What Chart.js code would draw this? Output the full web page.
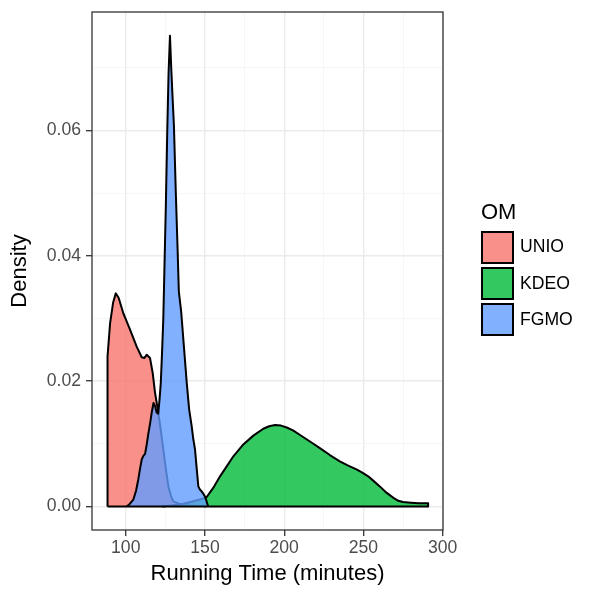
<!DOCTYPE html>
<html>
<head>
<meta charset="utf-8">
<script src="https://cdn.jsdelivr.net/npm/chart.js@4.4.0/dist/chart.umd.min.js"></script>
<style>
  html, body { margin: 0; padding: 0; background: #fff; }
  #wrap { position: relative; width: 600px; height: 600px; font-family: 'Liberation Sans', Arial, sans-serif; }
  #legendTitle { position: absolute; left: 481px; top: 201.4px; font-size: 22px; line-height: 1; color: #000; }
  .legend-item { position: absolute; left: 481px; display: flex; align-items: center; }
  .legend-key { width: 33px; height: 33px; box-sizing: border-box; border: 2px solid #000; }
  .legend-label { margin-left: 6px; font-size: 17.6px; line-height: 1; color: #000; }
</style>
</head>
<body>
<div id="wrap">
  <canvas id="densityChart" width="600" height="600"></canvas>
  <div id="legendTitle">OM</div>
</div>
<script>
// Series (density curves)
const seriesNames = ['UNIO', 'KDEO', 'FGMO'];

const unioX = [88.5, 88.5, 90.1, 92.0, 93.7, 95.5, 98.5, 102.7, 106.9, 110.1, 111.8, 113.2, 115.3, 117.0, 118.5, 120.6,
  122.2, 123.7, 125.3, 126.9, 128.5, 130.0, 135.0, 140.0, 145.0, 150.0, 150.0];
const unioY = [0, 0.0239, 0.0292, 0.0325, 0.0340, 0.0333, 0.0308, 0.0282, 0.0255, 0.0238, 0.0237, 0.0242, 0.0237, 0.0213, 0.0181, 0.0149,
  0.0120, 0.0091, 0.0060, 0.0032, 0.0017, 0.0008, 0.0003, 0.0002, 0.0001, 0.00005, 0];

const kdeoX = [123, 130, 136, 141, 145, 148, 151.1, 155.3, 159.5, 163.7, 167.9, 174.2, 180.5, 186.8, 190.5, 194.2, 198, 201.6,
  205.8, 210, 218.4, 222.5, 228.8, 235.1, 240.4, 245.6, 249.3, 253, 256.7, 260.3, 264.5, 268.7, 272, 275, 280, 285, 290.8, 290.8];
const kdeoY = [0, 0.0002, 0.0004, 0.0007, 0.0010, 0.0012, 0.0015, 0.0030, 0.0048, 0.0064, 0.0080, 0.0099, 0.0113, 0.0124, 0.0128,
  0.0130, 0.0129, 0.0126, 0.0121, 0.0114, 0.0100, 0.0093, 0.0082, 0.0072, 0.0065, 0.0059, 0.0054, 0.0048, 0.0040, 0.0032, 0.0022,
  0.0014, 0.0009, 0.0007, 0.0006, 0.0005, 0.0005, 0];

const fgmoX = [100.6, 102.5, 104.8, 106.5, 107.9, 109.0, 110.1, 111.2, 112.2, 113.3, 114.3, 115.4, 116.4, 117.5, 118.5, 119.5,
  120.5, 121.3, 122.1, 122.9, 123.7, 124.5, 125.3, 126.2, 127.0, 127.9, 128.7, 129.5, 130.4, 131.6, 132.6, 133.5, 135.0, 136.7,
  138.5, 140.0, 141.6, 142.6, 143.7, 144.8, 145.8, 146.8, 147.9, 149.0, 150.0, 151.0, 152.0];
const fgmoY = [0, 0.0004, 0.0011, 0.0025, 0.0043, 0.0060, 0.0075, 0.0081, 0.0084, 0.0100, 0.0117, 0.0133, 0.0150, 0.0165, 0.0160,
  0.0150, 0.0148, 0.0170, 0.0197, 0.0245, 0.0300, 0.0390, 0.0480, 0.0600, 0.0690, 0.0751, 0.0700, 0.0655, 0.0608, 0.0500,
  0.0420, 0.0343, 0.0310, 0.0255, 0.0197, 0.0155, 0.0128, 0.0108, 0.0091, 0.0060, 0.0032, 0.0027, 0.0024, 0.0020, 0.0016,
  0.0008, 0];

// Axis ticks
const xMajor = [100, 150, 200, 250, 300];
const xMinor = [125, 175, 225, 275];
const xTickLabels = ['100', '150', '200', '250', '300'];
const yMajor = [0, 0.02, 0.04, 0.06];
const yMinor = [0.01, 0.03, 0.05, 0.07];
const yTickLabels = ['0.00', '0.02', '0.04', '0.06'];

// Styles
const fillColors = ['rgba(248, 118, 109, 0.8)', 'rgba(0, 186, 56, 0.8)', 'rgba(97, 156, 255, 0.8)'];
const tickFont = { family: "'Liberation Sans', Arial, sans-serif", size: 17.6 };
const titleFont = { family: "'Liberation Sans', Arial, sans-serif", size: 22 };

function toPoints(xs, ys) {
  return xs.map((x, i) => ({ x: x, y: ys[i] }));
}

function majorIndex(list, v) {
  return list.findIndex((m) => Math.abs(m - v) < 1e-9);
}

function tickSetter(major, minor) {
  return (scale) => {
    scale.ticks = major.concat(minor).sort((a, b) => a - b).map((v) => ({ value: v }));
  };
}

const seriesData = [toPoints(unioX, unioY), toPoints(kdeoX, kdeoY), toPoints(fgmoX, fgmoY)];

const datasets = seriesNames.map((name, i) => ({
  label: name,
  data: seriesData[i],
  borderColor: '#000000',
  borderWidth: 2,
  backgroundColor: fillColors[i],
  fill: 'origin',
  pointRadius: 0,
  tension: 0,
  borderJoinStyle: 'round',
  order: 3 - i,
}));

// black baseline under all curves
datasets.push({
  label: 'baseline',
  data: [{ x: unioX[0], y: 0 }, { x: kdeoX[kdeoX.length - 1], y: 0 }],
  borderColor: '#000000',
  borderWidth: 2,
  fill: false,
  pointRadius: 0,
  order: 0,
});

// Panel border on top, like theme_bw
const panelBorder = {
  id: 'panelBorder',
  afterDraw(chart) {
    const { ctx, chartArea: a } = chart;
    ctx.save();
    ctx.strokeStyle = '#333333';
    ctx.lineWidth = 1.3;
    ctx.strokeRect(a.left, a.top, a.right - a.left, a.bottom - a.top);
    ctx.restore();
  },
};

function gridOpts(major) {
  return {
    color: (c) => (majorIndex(major, c.tick.value) >= 0 ? '#ebebeb' : '#f2f2f2'),
    lineWidth: (c) => (majorIndex(major, c.tick.value) >= 0 ? 1.4 : 0.7),
    tickColor: (c) => (majorIndex(major, c.tick.value) >= 0 ? '#333333' : 'rgba(0,0,0,0)'),
    tickWidth: 1.3,
    tickLength: 6,
    drawTicks: true,
  };
}

// drop the label-based edge padding so the panel sits exactly where the layout puts it
function noEdgePadding(s) {
  s.paddingTop = 0;
  s.paddingBottom = 0;
  s.paddingLeft = 0;
  s.paddingRight = 0;
}

const ctx = document.getElementById('densityChart').getContext('2d');
new Chart(ctx, {
  type: 'line',
  data: { datasets: datasets },
  plugins: [panelBorder],
  options: {
    responsive: false,
    animation: false,
    devicePixelRatio: 1,
    layout: { padding: { left: 0, top: 12, right: 157, bottom: 0 } },
    plugins: {
      legend: { display: false },
      tooltip: { enabled: false },
    },
    scales: {
      x: {
        type: 'linear',
        min: 78.7,
        max: 300.2,
        afterBuildTicks: tickSetter(xMajor, xMinor),
        afterFit: (s) => { s.height = 70; noEdgePadding(s); },
        grid: gridOpts(xMajor),
        border: { display: false },
        ticks: {
          autoSkip: false,
          maxRotation: 0,
          padding: 2,
          color: '#4d4d4d',
          font: tickFont,
          callback: (v) => { const i = majorIndex(xMajor, v); return i >= 0 ? xTickLabels[i] : ''; },
        },
        title: {
          display: true,
          text: 'Running Time (minutes)',
          color: '#000000',
          font: titleFont,
          padding: { top: 0, bottom: 13 },
        },
      },
      y: {
        type: 'linear',
        min: -0.00376,
        max: 0.0789,
        afterBuildTicks: tickSetter(yMajor, yMinor),
        afterFit: (s) => { s.width = 92; noEdgePadding(s); },
        grid: gridOpts(yMajor),
        border: { display: false },
        ticks: {
          autoSkip: false,
          padding: 5,
          color: '#4d4d4d',
          font: tickFont,
          callback: (v) => { const i = majorIndex(yMajor, v); return i >= 0 ? yTickLabels[i] : ''; },
        },
        title: {
          display: true,
          text: 'Density',
          color: '#000000',
          font: titleFont,
          padding: { top: 7, bottom: 0 },
        },
      },
    },
  },
});

// Legend (HTML, built from the series arrays)
const wrap = document.getElementById('wrap');
seriesNames.forEach((name, i) => {
  const item = document.createElement('div');
  item.className = 'legend-item';
  item.style.top = (230.7 + i * 36.3) + 'px';
  const key = document.createElement('div');
  key.className = 'legend-key';
  key.style.background = fillColors[i];
  const label = document.createElement('span');
  label.className = 'legend-label';
  label.textContent = name;
  item.appendChild(key);
  item.appendChild(label);
  wrap.appendChild(item);
});
</script>
</body>
</html>
